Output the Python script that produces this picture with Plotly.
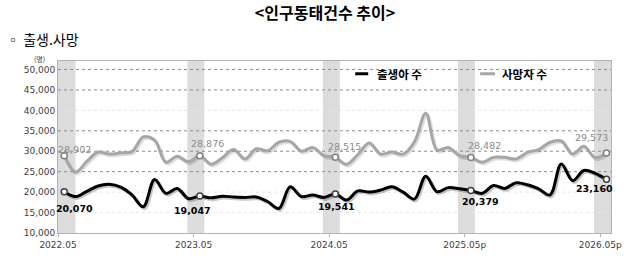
import plotly.graph_objects as go

# ---------------- data ----------------
tick_labels = ["2022.05", "2023.05", "2024.05", "2025.05p", "2026.05p"]
births = [20070, 18900, 20200, 21500, 21900, 21200, 19300, 16400, 23100, 19700,
          20900, 18400, 19047, 18600, 19000, 18800, 18700, 18800, 17700, 16000,
          21300, 18900, 19300, 18700, 19541, 18050, 20300, 20000, 20500, 21300,
          20000, 18300, 23900, 20100, 21100, 20800, 20379, 19700, 21600, 20900,
          22300, 21800, 20800, 19300, 26900, 22800, 25300, 24600, 23160]
deaths = [28902, 24900, 27500, 29800, 29300, 29600, 29900, 33500, 32700, 27300,
          28800, 27400, 28876, 26800, 28400, 30400, 28100, 30600, 30100, 32200,
          32400, 30000, 30900, 28900, 28515, 26800, 29200, 32000, 29300, 29800,
          29300, 32300, 39300, 30300, 30900, 28900, 28482, 27300, 28500, 28500,
          28100, 29700, 30400, 32200, 32500, 29300, 31200, 28400, 29573]
months = list(range(len(births)))
label_idx = [0, 12, 24, 36, 48]          # May of each year (labelled + shaded)
yticks = [10000, 15000, 20000, 25000, 30000, 35000, 40000, 45000, 50000]

# ---------------- styling ----------------
W, H = 637, 262
L, R, T, B = 57.5, 26, 61, 26
PW, PH = W - L - R, H - T - B
xr = [-0.55, 48.4]
yr = [10000, 52070]
NUM_FONT = "DejaVu Sans"
KR_FONT = "Noto Sans CJK KR"
BLACK = "#000000"
GRAY = "#a6a6a6"

def px_x(p):
    return (p - L) / PW

def px_y(p):
    return (H - B - p) / PH

fig = go.Figure()

# soft drop shadows
for ser, col in [(deaths, "rgba(0,0,0,0.13)"), (births, "rgba(0,0,0,0.22)")]:
    fig.add_trace(go.Scatter(x=[m + 0.12 for m in months], y=[v - 380 for v in ser],
                             mode="lines", line=dict(color=col, width=3.5, shape="spline", smoothing=1.0),
                             hoverinfo="skip", showlegend=False))

fig.add_trace(go.Scatter(x=months, y=deaths, mode="lines", name="사망자 수",
                         line=dict(color=GRAY, width=3, shape="spline", smoothing=1.0), showlegend=False))
fig.add_trace(go.Scatter(x=months, y=births, mode="lines", name="출생아 수",
                         line=dict(color=BLACK, width=3, shape="spline", smoothing=1.0), showlegend=False))

# hollow markers at labelled points
fig.add_trace(go.Scatter(x=label_idx, y=[deaths[i] for i in label_idx], mode="markers",
                         marker=dict(symbol="circle", size=6, color="white", line=dict(color="#808080", width=1.5)),
                         showlegend=False, hoverinfo="skip"))
fig.add_trace(go.Scatter(x=label_idx, y=[births[i] for i in label_idx], mode="markers",
                         marker=dict(symbol="circle", size=6, color="white", line=dict(color="#404040", width=1.5)),
                         showlegend=False, hoverinfo="skip"))

# shaded bands
band_off = [(-0.6, 1.0), (-1.1, 0.4), (-1.1, 0.4), (-1.15, 0.35), (-1.1, 0.4)]
shapes = []
for i, (a, b) in zip(label_idx, band_off):
    shapes.append(dict(type="rect", xref="x", yref="paper", x0=i + a, x1=i + b, y0=0, y1=1,
                       fillcolor="rgb(220,220,220)", line=dict(width=0), layer="below"))

# gridlines
strong = {25000, 30000, 35000, 45000, 50000}
for v in yticks[1:]:
    if v in strong:
        ln = dict(color="#8c8c8c", width=1, dash="dot")
    else:
        ln = dict(color="#e6e6e6", width=1, dash="dot")
    shapes.append(dict(type="line", xref="paper", yref="y", x0=0, x1=1, y0=v, y1=v, line=ln, layer="below"))

# legend (manual)
shapes.append(dict(type="line", xref="paper", yref="paper", x0=px_x(355), x1=px_x(368),
                   y0=px_y(74), y1=px_y(74), line=dict(color=BLACK, width=3)))
shapes.append(dict(type="line", xref="paper", yref="paper", x0=px_x(480), x1=px_x(495),
                   y0=px_y(74), y1=px_y(74), line=dict(color=GRAY, width=3)))

annotations = [
    dict(text="<b>출생아 수</b>", xref="paper", yref="paper", x=px_x(375), y=px_y(74), xanchor="left",
         yanchor="middle", showarrow=False, font=dict(family=KR_FONT, size=11.5, color="#000")),
    dict(text="<b>사망자 수</b>", xref="paper", yref="paper", x=px_x(500), y=px_y(74), xanchor="left",
         yanchor="middle", showarrow=False, font=dict(family=KR_FONT, size=11.5, color="#000")),
    dict(text="◦ 출생.사망", xref="paper", yref="paper", x=px_x(3), y=px_y(39), xanchor="left",
         yanchor="middle", showarrow=False, font=dict(family=KR_FONT, size=14, color="#000")),
    dict(text="(명)", xref="paper", yref="paper", x=px_x(38.5), y=px_y(59), xanchor="center",
         yanchor="middle", showarrow=False, font=dict(family=KR_FONT, size=7, color="#333")),
]

# data labels
gray_off = [(10, 6), (8, 12), (9, 11), (14, 12), (-15, 15)]
black_off = [(10, -17), (-7, -14), (1, -13), (10, -11), (-12, -9)]
for i, (dx, dy) in zip(label_idx, gray_off):
    annotations.append(dict(x=i, y=deaths[i], text=f"{deaths[i]:,}", showarrow=False, xshift=dx, yshift=dy,
                            font=dict(family=NUM_FONT, size=9.5, color="#8c8c8c")))
for i, (dx, dy) in zip(label_idx, black_off):
    annotations.append(dict(x=i, y=births[i], text=f"<b>{births[i]:,}</b>", showarrow=False, xshift=dx, yshift=dy,
                            font=dict(family=NUM_FONT, size=9.5, color="#000")))

tickvals = [i - 0.55 for i in label_idx]

fig.update_layout(
    width=W, height=H, margin=dict(l=L, r=R, t=T, b=B),
    paper_bgcolor="white", plot_bgcolor="white",
    title=dict(text="<b>&lt;인구동태건수 추이&gt;</b>", x=325 / W, y=1 - 13 / H, xref="container", yref="container",
               xanchor="center", yanchor="middle", font=dict(family=KR_FONT, size=16, color="#000")),
    xaxis=dict(range=xr, tickvals=tickvals, ticktext=tick_labels, showgrid=False, zeroline=False,
               showline=True, linecolor="#b4b4b4", linewidth=1, mirror=True,
               ticks="outside", ticklen=3, tickcolor="#b4b4b4",
               tickfont=dict(family=NUM_FONT, size=9, color="#404040")),
    yaxis=dict(range=yr, tickvals=yticks, ticktext=[f"{v:,}" for v in yticks], showgrid=False, zeroline=False,
               showline=True, linecolor="#b4b4b4", linewidth=1, mirror=True, ticks="",
               tickfont=dict(family=NUM_FONT, size=9, color="#404040")),
    shapes=shapes, annotations=annotations, showlegend=False,
)

fig.write_html("out.html")
